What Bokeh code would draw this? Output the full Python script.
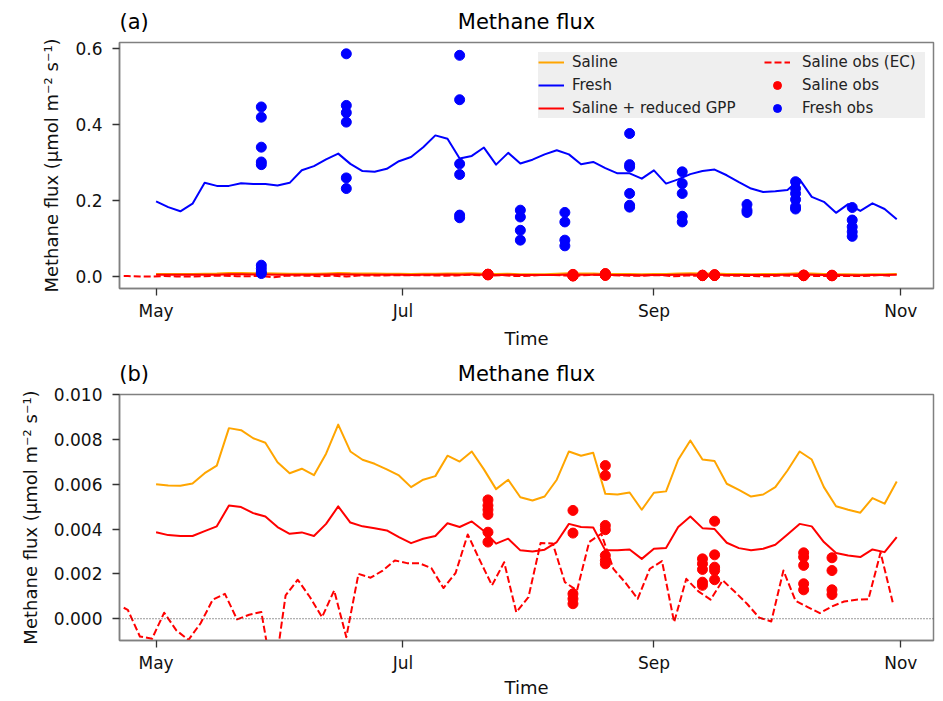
import pandas as pd
from bokeh.plotting import figure
from bokeh.layouts import column
from bokeh.models import (Range1d, FixedTicker, DatetimeTickFormatter, PrintfTickFormatter,
                          Legend, LegendItem, Span, LinearAxis)
from bokeh.embed import file_html
from bokeh.resources import INLINE

# ---------------- data ----------------
model_start = "2019-05-01"
model_step = "3D"
model_n = 62

saline = [0.00600, 0.00594, 0.00593, 0.00603, 0.00649, 0.00683, 0.00850, 0.00841, 0.00805, 0.00785,
          0.00698, 0.00649, 0.00669, 0.00640, 0.00736, 0.00866, 0.00746, 0.00709, 0.00691, 0.00666,
          0.00639, 0.00587, 0.00620, 0.00636, 0.00727, 0.00701, 0.00746, 0.00666, 0.00578, 0.00620,
          0.00542, 0.00527, 0.00545, 0.00620, 0.00746, 0.00727, 0.00740, 0.00557, 0.00554, 0.00563,
          0.00486, 0.00562, 0.00568, 0.00709, 0.00795, 0.00710, 0.00703, 0.00602, 0.00575, 0.00545,
          0.00554, 0.00587, 0.00661, 0.00746, 0.00710, 0.00587, 0.00502, 0.00486, 0.00473, 0.00538,
          0.00513, 0.00612]

saline_reduced_gpp = [0.00386, 0.00373, 0.00369, 0.00369, 0.00391, 0.00412, 0.00505, 0.00498, 0.00471, 0.00456,
                      0.00409, 0.00379, 0.00385, 0.00369, 0.00423, 0.00501, 0.00429, 0.00412, 0.00404, 0.00394,
                      0.00364, 0.00337, 0.00357, 0.00369, 0.00426, 0.00409, 0.00434, 0.00391, 0.00335, 0.00357,
                      0.00305, 0.00300, 0.00308, 0.00342, 0.00423, 0.00409, 0.00407, 0.00305, 0.00305, 0.00309,
                      0.00267, 0.00312, 0.00316, 0.00409, 0.00456, 0.00404, 0.00400, 0.00339, 0.00315, 0.00305,
                      0.00312, 0.00330, 0.00376, 0.00423, 0.00412, 0.00342, 0.00293, 0.00282, 0.00275, 0.00309,
                      0.00297, 0.00364]

fresh = [0.197, 0.182, 0.171, 0.191, 0.246, 0.238, 0.238, 0.245, 0.243, 0.243,
         0.239, 0.246, 0.279, 0.290, 0.308, 0.323, 0.296, 0.277, 0.275, 0.283,
         0.303, 0.314, 0.340, 0.371, 0.362, 0.310, 0.317, 0.339, 0.294, 0.325,
         0.297, 0.307, 0.321, 0.332, 0.321, 0.295, 0.301, 0.285, 0.271, 0.271,
         0.257, 0.279, 0.244, 0.255, 0.269, 0.277, 0.281, 0.266, 0.248, 0.231,
         0.222, 0.224, 0.227, 0.255, 0.209, 0.196, 0.167, 0.190, 0.172, 0.192,
         0.177, 0.150]

ec_first_date = "2019-04-23"
ec_start = "2019-04-24"
ec_step = "3D"
saline_obs_ec = [0.00049, 0.00040, -0.00079, -0.00089, 0.00027, -0.00052, -0.00094, -0.00020, 0.00085, 0.00111,
                 -0.00003, 0.00018, 0.00030, -0.00280, 0.00104, 0.00174, 0.00097, 0.00007, 0.00126, -0.00082,
                 0.00200, 0.00183, 0.00215, 0.00260, 0.00248, 0.00248, 0.00226, 0.00137, 0.00204, 0.00376,
                 0.00260, 0.00149, 0.00252, 0.00029, 0.00096, 0.00338, 0.00336, 0.00163, 0.00126, 0.00342,
                 0.00379, 0.00222, 0.00160, 0.00089, 0.00223, 0.00257, -0.00015, 0.00178, 0.00122, 0.00085,
                 0.00171, 0.00120, 0.00067, 0.00005, -0.00012, 0.00215, 0.00080, 0.00052, 0.00025, 0.00055,
                 0.00077, 0.00085, 0.00087, 0.00295, 0.00074]

saline_obs_dates = ["2019-07-22", "2019-08-12", "2019-08-20", "2019-09-13", "2019-09-16",
                    "2019-10-08", "2019-10-15"]
saline_obs_values = [
    [0.00530, 0.00505, 0.00486, 0.00465, 0.00386, 0.00342],
    [0.00483, 0.00382, 0.00111, 0.00089, 0.00067],
    [0.00683, 0.00639, 0.00416, 0.00397, 0.00282, 0.00260, 0.00245],
    [0.00267, 0.00245, 0.00220, 0.00163, 0.00149],
    [0.00435, 0.00285, 0.00230, 0.00215, 0.00174],
    [0.00294, 0.00275, 0.00238, 0.00156, 0.00129],
    [0.00272, 0.00215, 0.00129, 0.00108],
]

fresh_obs_dates = ["2019-05-27", "2019-06-17", "2019-07-15", "2019-07-30", "2019-08-10",
                   "2019-08-26", "2019-09-08", "2019-09-24", "2019-10-06", "2019-10-20"]
fresh_obs_values = [
    [0.446, 0.419, 0.340, 0.301, 0.294, 0.029, 0.020, 0.011, 0.007],
    [0.586, 0.450, 0.431, 0.406, 0.259, 0.231],
    [0.582, 0.465, 0.296, 0.268, 0.161, 0.154],
    [0.174, 0.156, 0.121, 0.095],
    [0.168, 0.143, 0.095, 0.080],
    [0.376, 0.294, 0.288, 0.218, 0.187, 0.182],
    [0.275, 0.244, 0.218, 0.158, 0.143],
    [0.189, 0.174, 0.168],
    [0.249, 0.231, 0.218, 0.202, 0.183, 0.177],
    [0.181, 0.148, 0.130, 0.117, 0.105],
]

x_tick_dates = ["2019-05-01", "2019-07-01", "2019-09-01", "2019-11-01"]
x_start, x_end = "2019-04-21 23:00", "2019-11-09 02:00"
top_y_ticks = [0.0, 0.2, 0.4, 0.6]
top_y_range = (-0.0324, 0.6158)
bot_y_ticks = [0.000, 0.002, 0.004, 0.006, 0.008, 0.010]
bot_y_range = (-0.00097, 0.0100)
title_text = "Methane flux"

# ---------------- derived ----------------
model_dates = pd.date_range(model_start, periods=model_n, freq=model_step)
ec_dates = [pd.Timestamp(ec_first_date)] + list(pd.date_range(ec_start, periods=len(saline_obs_ec) - 1, freq=ec_step))


def flatten(dates, groups):
    xs, ys = [], []
    for d, vals in zip(dates, groups):
        for v in vals:
            xs.append(pd.Timestamp(d))
            ys.append(v)
    return xs, ys


sal_x, sal_y = flatten(saline_obs_dates, saline_obs_values)
fr_x, fr_y = flatten(fresh_obs_dates, fresh_obs_values)


def ms(ts):
    return int(pd.Timestamp(ts).value // 10**6)


tick_ms = [ms(d) for d in x_tick_dates]
x_start_ms, x_end_ms = ms(x_start), ms(x_end)
title_ms = (x_start_ms + x_end_ms) // 2
letter_ms = x_start_ms + int(3.6 * 86400000)   # "(a)" text left-aligned with the frame

FONT = "DejaVu Sans"
ORANGE, BLUE, RED = "orange", "blue", "red"
YLABEL = "Methane flux (\u03bcmol m\u207b\u00b2 s\u207b\u00b9)"

FRAME_W, FRAME_H = 814, 246


def make_fig(letter, yr, yticks, yfmt, top_border, bottom_border, xlabel_standoff):
    p = figure(x_axis_type="datetime", output_backend="svg", toolbar_location=None,
               frame_width=FRAME_W, frame_height=FRAME_H,
               min_border_left=119, min_border_right=8,
               min_border_top=top_border, min_border_bottom=bottom_border,
               x_range=Range1d(pd.Timestamp(x_start), pd.Timestamp(x_end)),
               y_range=Range1d(*yr))
    p.xgrid.visible = False
    p.ygrid.visible = False
    p.outline_line_color = "#808080"
    p.outline_line_width = 1.5
    p.background_fill_color = "white"
    p.border_fill_color = "white"

    p.xaxis.ticker = FixedTicker(ticks=tick_ms)
    p.xaxis.formatter = DatetimeTickFormatter(months="%b", days="%b", years="%b", hours="%b")
    p.yaxis.ticker = FixedTicker(ticks=yticks)
    p.yaxis.formatter = PrintfTickFormatter(format=yfmt)
    for ax in (p.xaxis, p.yaxis):
        ax.axis_line_color = "#808080"
        ax.axis_line_width = 1.5
        ax.major_tick_line_color = "#333333"
        ax.major_tick_line_width = 1.3
        ax.major_tick_out = 7
        ax.major_tick_in = 0
        ax.minor_tick_line_color = None
        ax.major_label_text_font = FONT
        ax.major_label_text_font_size = "17px"
        ax.major_label_text_color = "#111111"
        ax.axis_label_text_font = FONT
        ax.axis_label_text_font_size = "18px"
        ax.axis_label_text_font_style = "normal"
        ax.axis_label_text_color = "#111111"
    p.xaxis.major_label_standoff = 5
    p.xaxis.axis_label_standoff = xlabel_standoff
    p.yaxis.major_label_standoff = 10
    p.yaxis.axis_label_standoff = 10
    p.xaxis.axis_label = "Time"
    p.yaxis.axis_label = YLABEL

    # panel letter (left) and title (centre) on one line above the frame
    head = LinearAxis(ticker=FixedTicker(ticks=[letter_ms, title_ms]),
                      major_label_overrides={letter_ms: letter, title_ms: title_text})
    head.axis_line_color = None
    head.major_tick_line_color = None
    head.minor_tick_line_color = None
    head.major_tick_out = 0
    head.major_tick_in = 0
    head.major_label_standoff = 9
    head.major_label_text_font = FONT
    head.major_label_text_font_size = "21px"
    head.major_label_text_color = "black"
    p.add_layout(head, "above")
    return p


def add_series(p, with_fresh):
    r_sal = p.line(model_dates, saline, color=ORANGE, line_width=2, line_join="round")
    r_fr = None
    if with_fresh:
        r_fr = p.line(model_dates, fresh, color=BLUE, line_width=2, line_join="round")
    r_red = p.line(model_dates, saline_reduced_gpp, color=RED, line_width=2, line_join="round")
    r_ec = p.line(ec_dates, saline_obs_ec, color=RED, line_width=2, line_dash="7 3", line_join="round")
    r_so = p.scatter(sal_x, sal_y, size=10, color=RED, marker="circle")
    r_fo = None
    if with_fresh:
        r_fo = p.scatter(fr_x, fr_y, size=10, color=BLUE, marker="circle")
    return r_sal, r_fr, r_red, r_ec, r_so, r_fo


# ---------------- panel (a) ----------------
pa = make_fig("(a)", top_y_range, top_y_ticks, "%.1f", 42, 63, 4)
r_sal, r_fr, r_red, r_ec, r_so, r_fo = add_series(pa, True)

leg_common = dict(background_fill_color="#efefef", background_fill_alpha=1.0,
                  border_line_color=None, label_text_font=FONT, label_text_font_size="15px",
                  label_text_color="#222222", glyph_width=26, glyph_height=20, label_height=20,
                  padding=9, spacing=3, margin=0)
leg_a = Legend(items=[LegendItem(label="Saline", renderers=[r_sal]),
                      LegendItem(label="Fresh", renderers=[r_fr]),
                      LegendItem(label="Saline + reduced GPP", renderers=[r_red])],
               location=(419, 170), label_width=195, label_standoff=8, **leg_common)
leg_b = Legend(items=[LegendItem(label="Saline obs (EC)", renderers=[r_ec]),
                      LegendItem(label="Saline obs", renderers=[r_so]),
                      LegendItem(label="Fresh obs", renderers=[r_fo])],
               location=(645, 170), label_width=123, label_standoff=12, **leg_common)
pa.add_layout(leg_a)
pa.add_layout(leg_b)

# ---------------- panel (b) ----------------
pb = make_fig("(b)", bot_y_range, bot_y_ticks, "%.3f", 43, 60, 1)
pb.add_layout(Span(location=0, dimension="width", line_color="#333333", line_dash="1 2", line_width=1))
add_series(pb, False)

layout = column(pa, pb, spacing=0)
open("out.html", "w").write(file_html(layout, INLINE))
